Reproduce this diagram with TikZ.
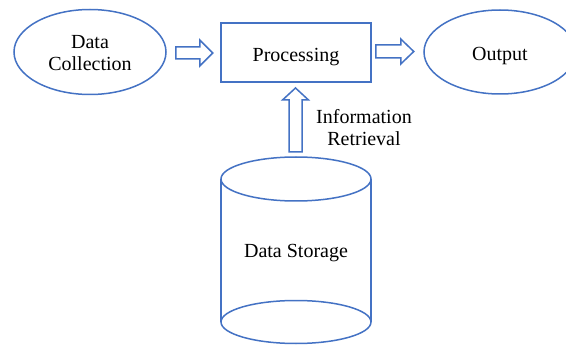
\documentclass[tikz,border=0pt]{standalone}
\usepackage{fontspec}
\setmainfont{Liberation Serif}
\usetikzlibrary{calc,shapes.geometric}
\definecolor{lblue}{HTML}{4472C4}
\begin{document}
\begin{tikzpicture}[x=1pt,y=-1pt,
  shapeline/.style={draw=lblue,line width=1.5pt},
  lbl/.style={font=\fontsize{20}{22}\selectfont,align=center,text=black},
  onetext/.style={text height=18pt,text depth=0pt},
  ell/.style={shapeline,ellipse,inner sep=0pt,lbl},
  barrow/.style={draw=lblue,line width=1.5pt,line join=miter,fill=white}]
\useasboundingbox (0,0) rectangle (566,345);
\clip (0,0) rectangle (566,345);
\fill[white] (0,0) rectangle (566,345);
% nodes
\node[ell,minimum width=152pt,minimum height=85pt] (dc) at (90,52) {};
\node[lbl,inner sep=0pt] (dctext) at ($(dc.center)+(0,1.5)$) {Data\\Collection};
\node[shapeline,lbl,onetext,rectangle,minimum width=150pt,minimum height=59pt,inner sep=0pt] (proc) at (296,52.5) {Processing};
\node[ell,onetext,minimum width=152pt,minimum height=84pt] (out) at (500,52) {Output};
\node[lbl,inner sep=0pt] (store) at (296,253) {Data Storage};
\node[lbl,inner sep=0pt] (ir) at (364,127.5) {Information\\Retrieval};
% cylinder
\coordinate (cyltop) at ($(store)+(0,-74)$);
\coordinate (cylbot) at ($(store)+(0,69)$);
\draw[shapeline] (cyltop) ellipse [x radius=75,y radius=22];
\draw[shapeline] (cylbot) ellipse [x radius=75,y radius=21.5];
\draw[shapeline] ($(cyltop)+(-75,0)$) -- ($(cylbot)+(-75,0)$);
\draw[shapeline] ($(cyltop)+(75,0)$) -- ($(cylbot)+(75,0)$);
% block arrows
\coordinate (a1) at ($(dc.east)+(9,1)$);
\draw[barrow] (a1) ++(0,-6) -- ++(24,0) -- ++(0,-7) -- ++(13,13) -- ++(-13,13) -- ++(0,-7) -- ++(-24,0) -- cycle;
\coordinate (a2) at ($(proc.east)+(4,-1)$);
\draw[barrow] (a2) ++(0,-6.5) -- ++(25,0) -- ++(0,-6) -- ++(13,12.5) -- ++(-13,12.5) -- ++(0,-6) -- ++(-25,0) -- cycle;
\coordinate (a3) at ($(cyltop)+(-0.5,-27)$);
\draw[barrow] (a3) ++(-6.5,0) -- ++(0,-52) -- ++(-6.5,0) -- ++(13,-12) -- ++(13,12) -- ++(-6.5,0) -- ++(0,52) -- cycle;
\end{tikzpicture}
\end{document}
